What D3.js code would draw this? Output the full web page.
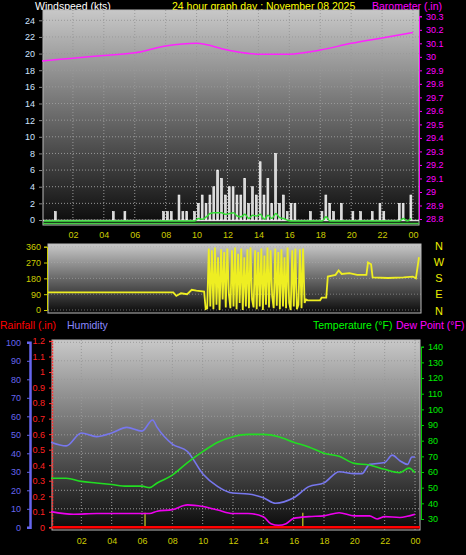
<!DOCTYPE html>
<html><head><meta charset="utf-8">
<script src="https://cdn.jsdelivr.net/npm/d3@7"></script>
<style>body{margin:0;background:#000}svg{display:block}text{font-family:"Liberation Sans",Arial,sans-serif}</style>
</head><body><svg id="c" width="466" height="555"></svg>
<script>
// ---- data ----
const hourTicks = ["02","04","06","08","10","12","14","16","18","20","22","00"];
// gusts every 15 min (96 values)
const gust = [0,0,0,1, 0,0,0,0, 0,0,0,0, 0,0,0,0, 0,0,1,0, 0,1,0,0, 0,0,0,0, 0,0,0,1,
  1,1,0,3, 1,1,0,1, 2,3,2,3, 4,6,5,3, 4,4,3,3, 5,2,4,3, 7,3,5,2, 8,2,3,1, 2,2,0,0, 0,1,0,0,
  1,3,2,1, 0,2,0,0, 1,0,1,0, 0,1,0,2, 1,0,0,0, 2,2,0,3];
const avgWind = [0,0,0,0, 0,0,0,0, 0,0,0,0, 0,0,0,0, 0,0,0,0, 0,0,0,0, 0,0,0,0, 0,0,0,0,
  0,0,0,0, 0,0,0,0, 0.3,0.2,0.5,0.9, 1,1,1,0.8, 0.9,1,0.6,0.5, 0.8,0.3,0.7,0.6, 0.8,0.2,0.7,0.3, 0.9,0.4,0.3,0.1,
  0,0,0,0, 0,0,0,0, 0,0.5,0,0, 0,0,0,0, 0,0,0,0, 0,0,0,0, 0,0,0,0, 0,0.3,0,0.3];
const baroHours = [0,2,4,6,8,10,12,14,16,18,20,22,24];
const baro = [29.97,29.99,30.01,30.03,30.08,30.10,30.05,30.02,30.02,30.05,30.10,30.14,30.18];
const dirHours = [0,8.1,8.3,8.6,9.0,9.3,9.6,10.1,10.2];
const dirVals = [100,100,80,95,90,115,110,105,5];
const dirWild = [10,350,20,340,5,355,30,300,0,345,60,330,15,350,90,10,340,20,355,5,320,40,350,0,300,20,345,10,355,60,15,340,5,330,20,350,0,310,30,355,15,340,80,10,350,25,330,5,345,20,300,10,355,40,0,340,20,350,5,30,345,10,350,40,60];
const dirTailHours = [16.8,17.6,17.7,18.0,18.1,18.6,18.8,19.0,19.5,20.0,20.6,20.7,20.9,21.0,22.0,23.0,23.6,23.8,24.0];
const dirTailVals = [55,55,70,70,190,200,225,205,210,200,200,270,260,185,182,185,190,180,300];
const tHours = [0,1,2,3,4,5,6,6.5,7,8,9,10,11,12,13,14,15,16,17,18,19,20,21,22,23,23.6,24];
const temp = [56,56,54,53,52,51,51,50,53,58,66,73,79,82.5,84,84,82.5,79,76,72,70,65.5,64.5,61.7,59.6,62.5,59.6];
const humHours = [0,1,2,3,4,5,6,6.7,7,8,9,10,11,12,13,14,14.8,16,17,18,19,20,20.5,21,22,22.5,23,23.5,23.8,24];
const hum = [46,44,51,49,51,54,52,58,54,45,41,29,22,18.5,18,16,13,16,22,24,30,29,29,34,35,39,36,34,38,38];
const dewHours = [0,1.5,3,5,6.5,7,8,9,10,11,12,13,14,14.5,15,15.5,16,17,18,19,20,21,21.5,22,23,24];
const dew = [34.7,33,33.5,33.5,33.5,35,36,39,38,35.7,33.5,33.5,31.5,27,26,27,30.4,31.5,32,34,32,32,30,31.5,31,33];
const rainEvents = [6.2,16.6];

const svg = d3.select("#c");
const defs = svg.append("defs");
const gr = defs.append("linearGradient").attr("id","bg").attr("x1",0).attr("x2",0).attr("y1",0).attr("y2",1);
gr.append("stop").attr("offset","0%").attr("stop-color","#c8c8c8");
gr.append("stop").attr("offset","100%").attr("stop-color","#0a0a0a");

function txt(x,y,s,col,anchor,size){return svg.append("text").attr("x",x).attr("y",y).text(s).attr("fill",col).attr("font-size",size||10.5).attr("text-anchor",anchor||"start");}

// titles
txt(35,10,"Windspeed (kts)","#fff");
txt(172,10,"24 hour graph day : November 08 2025","#ffff00");
txt(372,10,"Barometer (.in)","#ff00ff");

// ---------- top panel ----------
const x1 = d3.scaleLinear().domain([0,24]).range([42,413]);
const yW = d3.scaleLinear().domain([0,24]).range([220,20.3]);
const yB = d3.scaleLinear().domain([28.8,30.3]).range([219,16.3]);
svg.append("rect").attr("x",43).attr("y",10).attr("width",376).attr("height",215).attr("fill","url(#bg)").attr("stroke","#bbb");
const g1 = svg.append("g");
d3.range(0,25,2).forEach(v=>g1.append("line").attr("x1",43).attr("x2",419).attr("y1",yW(v)).attr("y2",yW(v)).attr("stroke","#999").attr("stroke-dasharray","1,2"));
d3.range(2,25,2).forEach(h=>g1.append("line").attr("x1",x1(h)).attr("x2",x1(h)).attr("y1",10).attr("y2",225).attr("stroke","#999").attr("stroke-dasharray","1,2"));
g1.append("line").attr("x1",43).attr("x2",419).attr("y1",yW(0)+0.5).attr("y2",yW(0)+0.5).attr("stroke","#ddd").attr("stroke-width",1.5);
g1.append("g").attr("transform","translate(42,0)").call(d3.axisLeft(yW).tickValues(d3.range(0,25,2)).tickSize(3).tickPadding(4))
  .call(a=>{a.select(".domain").remove();a.selectAll("line").attr("stroke","#888");a.selectAll("text").attr("fill","#cfe3ff").attr("font-size",9);});
g1.append("g").attr("transform","translate(419,0)").call(d3.axisRight(yB).tickValues(d3.range(28.8,30.31,0.1)).tickFormat(d=>+d.toFixed(1)).tickSize(3).tickPadding(4))
  .call(a=>{a.select(".domain").attr("stroke","#ff00ff");a.selectAll("line").attr("stroke","#ff00ff");a.selectAll("text").attr("fill","#ff00ff").attr("font-size",9);});
const bw = (x1(24)-x1(0))/96;
gust.forEach((d,i)=>{ if(d>0) g1.append("rect").attr("x",x1(i/4)+0.8).attr("width",bw-2).attr("y",yW(d)).attr("height",yW(0)-yW(d)).attr("fill","#d8d8d8").attr("stroke","#fff").attr("stroke-width",0.6);});
g1.append("path").datum(avgWind).attr("fill","none").attr("stroke","#33dd33").attr("stroke-width",1.5)
  .attr("d",d3.line().x((d,i)=>x1(i/4+0.125)).y(d=>yW(d)+1).curve(d3.curveMonotoneX));
g1.append("line").attr("x1",43).attr("x2",419).attr("y1",223.5).attr("y2",223.5).attr("stroke","#4c4").attr("stroke-width",1.5);
g1.append("path").datum(baro).attr("fill","none").attr("stroke","#ff22ff").attr("stroke-width",1.5)
  .attr("d",d3.line().x((d,i)=>x1(baroHours[i])).y(d=>yB(d)).curve(d3.curveMonotoneX));
const ax1 = g1.append("g").attr("transform","translate(0,226)").call(d3.axisBottom(x1).tickValues(d3.range(2,25,2)).tickFormat((d,i)=>hourTicks[i]).tickSize(0).tickPadding(6));
ax1.select(".domain").remove(); ax1.selectAll("text").attr("fill","#cccc00").attr("font-size",9);

// ---------- middle panel ----------
const x2 = d3.scaleLinear().domain([0,24]).range([48,419]);
const yD = d3.scaleLinear().domain([0,360]).range([310,246.7]);
svg.append("rect").attr("x",48).attr("y",244).attr("width",373).attr("height",69).attr("fill","url(#bg)").attr("stroke","#bbb");
const g2 = svg.append("g");
[0,90,180,270,360].forEach(v=>g2.append("line").attr("x1",48).attr("x2",421).attr("y1",yD(v)).attr("y2",yD(v)).attr("stroke","#aaa").attr("stroke-dasharray","1,2").attr("opacity",0.6));
g2.append("g").attr("transform","translate(47,0)").call(d3.axisLeft(yD).tickValues([0,90,180,270,360]).tickSize(3).tickPadding(3))
  .call(a=>{a.select(".domain").attr("stroke","#cccc00");a.selectAll("line").attr("stroke","#cccc00");a.selectAll("text").attr("fill","#cccc00").attr("font-size",9);});
const dirPts = dirHours.map((h,i)=>[h,dirVals[i]])
  .concat(dirWild.map((v,i)=>[10.3+i*0.1,v]))
  .concat(dirTailHours.map((h,i)=>[h,dirTailVals[i]]));
g2.append("path").datum(dirPts).attr("fill","none").attr("stroke","#eeee22").attr("stroke-width",1.8)
  .attr("d",d3.line().x(d=>x2(d[0])).y(d=>yD(d[1])));
["N","W","S","E","N"].forEach((s,i)=>txt(439,[250,266,282,298,315][i],s,"#eeee00","middle",11));

// legend row
txt(0,329,"Rainfall (.in)","#ff0000");
txt(67,329,"Humidity","#8888ff");
txt(313,329,"Temperature (°F)","#00ff00");
txt(396,329,"Dew Point (°F)","#ff00ff");

// ---------- bottom panel ----------
const x3 = d3.scaleLinear().domain([0,24]).range([51,415]);
const yH = d3.scaleLinear().domain([0,100]).range([527.3,342.3]);
const yR = d3.scaleLinear().domain([0,1.2]).range([527.3,341]);
const yT = d3.scaleLinear().domain([30,140]).range([519,346.7]);
svg.append("rect").attr("x",52).attr("y",340).attr("width",368).attr("height",190).attr("fill","url(#bg)").attr("stroke","#bbb");
const g3 = svg.append("g");
d3.range(10,101,10).forEach(v=>g3.append("line").attr("x1",52).attr("x2",420).attr("y1",yH(v)).attr("y2",yH(v)).attr("stroke","#999").attr("stroke-dasharray","1,2"));
d3.range(2,25,2).forEach(h=>g3.append("line").attr("x1",x3(h)).attr("x2",x3(h)).attr("y1",340).attr("y2",530).attr("stroke","#999").attr("stroke-dasharray","1,2"));
g3.append("g").attr("transform","translate(30,0)").call(d3.axisLeft(yH).tickValues(d3.range(0,101,10)).tickSize(3).tickPadding(6))
  .call(a=>{a.select(".domain").attr("stroke","#6666ee").attr("stroke-width",2.5);a.selectAll("line").attr("stroke","#6666ee");a.selectAll("text").attr("fill","#6666ee").attr("font-size",9);});
g3.append("g").attr("transform","translate(52,0)").call(d3.axisLeft(yR).tickValues(d3.range(0,1.21,0.1)).tickFormat(d=>+d.toFixed(1)).tickSize(3).tickPadding(4))
  .call(a=>{a.select(".domain").attr("stroke","#ff3333").attr("stroke-dasharray","2,1").attr("stroke-width",1.5);a.selectAll("line").attr("stroke","#ff3333");a.selectAll("text").attr("fill","#ff2020").attr("font-size",9);});
g3.append("g").attr("transform","translate(421,0)").call(d3.axisRight(yT).tickValues(d3.range(30,141,10)).tickSize(3).tickPadding(4))
  .call(a=>{a.select(".domain").attr("stroke","#00cc00");a.selectAll("line").attr("stroke","#00cc00");a.selectAll("text").attr("fill","#00ee00").attr("font-size",9);});
rainEvents.forEach(h=>g3.append("line").attr("x1",x3(h)).attr("x2",x3(h)).attr("y1",yR(0)).attr("y2",yR(0.1)+1).attr("stroke","#aaaa22").attr("stroke-width",1.5));
g3.append("line").attr("x1",52).attr("x2",420).attr("y1",yR(0)).attr("y2",yR(0)).attr("stroke","#ff0000").attr("stroke-width",2.5);
const lineH = d3.line().curve(d3.curveMonotoneX);
g3.append("path").attr("fill","none").attr("stroke","#7777ee").attr("stroke-width",1.6)
  .attr("d",lineH(hum.map((v,i)=>[x3(humHours[i]),yH(v)])));
g3.append("path").attr("fill","none").attr("stroke","#22dd22").attr("stroke-width",1.6)
  .attr("d",lineH(temp.map((v,i)=>[x3(tHours[i]),yT(v)])));
g3.append("path").attr("fill","none").attr("stroke","#ee00ee").attr("stroke-width",1.6)
  .attr("d",lineH(dew.map((v,i)=>[x3(dewHours[i]),yT(v)])));
const ax3 = g3.append("g").attr("transform","translate(0,532)").call(d3.axisBottom(x3).tickValues(d3.range(2,25,2)).tickFormat((d,i)=>hourTicks[i]).tickSize(0).tickPadding(6));
ax3.select(".domain").remove(); ax3.selectAll("text").attr("fill","#cccc00").attr("font-size",9);
</script></body></html>
